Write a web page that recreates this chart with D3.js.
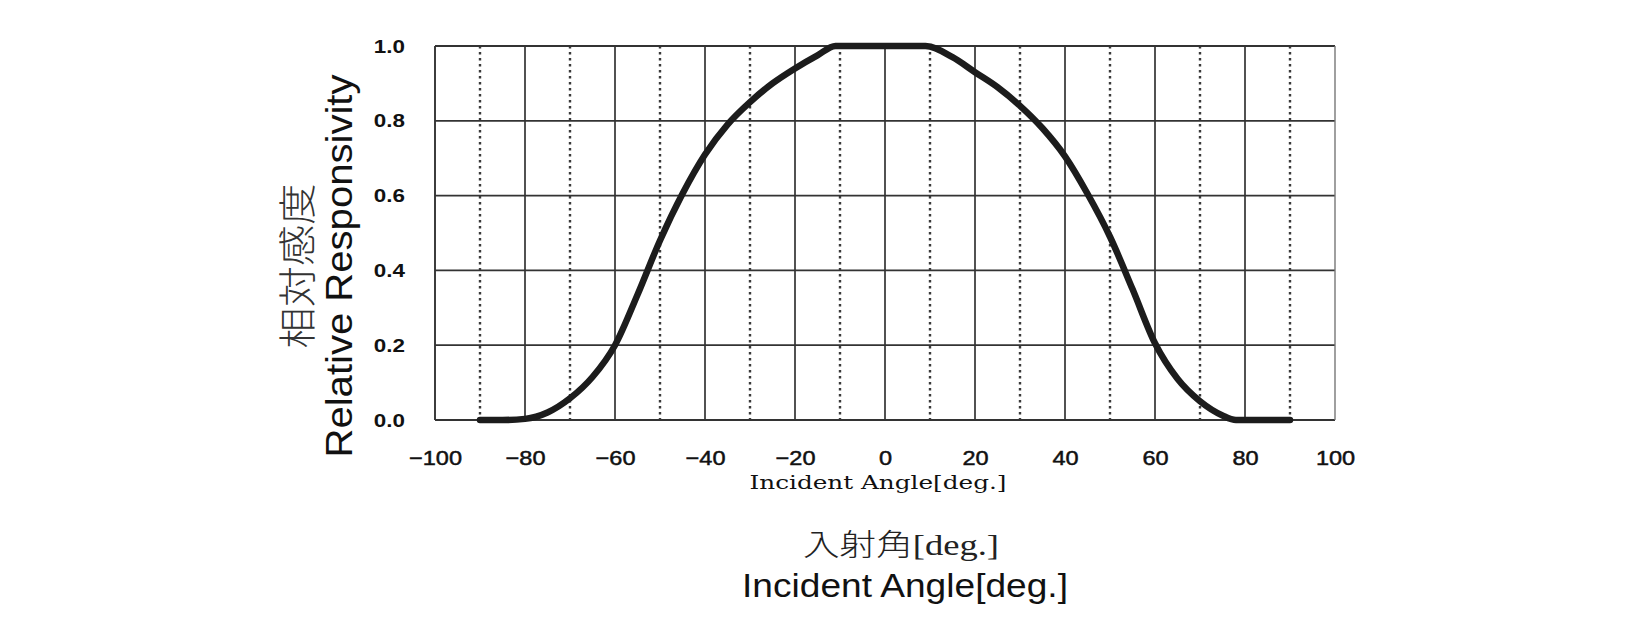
<!DOCTYPE html>
<html>
<head>
<meta charset="utf-8">
<script src="https://cdn.jsdelivr.net/npm/d3@7"></script>
<style>
  html, body { margin: 0; padding: 0; background: #fff; }
  svg { display: block; }
</style>
</head>
<body>
<svg id="chart" width="1633" height="618"></svg>
<script>
// ---- data ----
const angles = [-90, -85, -80, -75, -70, -65, -60, -55, -50, -45, -40, -35, -30, -25, -20, -15, -11, 0, 9, 15, 20, 25, 30, 35, 40, 45, 50, 55, 60, 65, 70, 75, 78, 84, 90];
const responsivity = [0, 0, 0.003, 0.02, 0.058, 0.115, 0.2, 0.335, 0.48, 0.605, 0.71, 0.79, 0.85, 0.9, 0.94, 0.975, 1.0, 1.0, 1.0, 0.97, 0.93, 0.89, 0.84, 0.78, 0.705, 0.605, 0.49, 0.35, 0.205, 0.11, 0.05, 0.012, 0, 0, 0];
const xTicks = [-100, -80, -60, -40, -20, 0, 20, 40, 60, 80, 100];
const xMajorGrid = [-80, -60, -40, -20, 0, 20, 40, 60, 80];
const xMinorGrid = [-90, -70, -50, -30, -10, 10, 30, 50, 70, 90];
const yTicks = [0.0, 0.2, 0.4, 0.6, 0.8, 1.0];
const yGrid = [0.2, 0.4, 0.6, 0.8];
const xLabelSmall = "Incident Angle[deg.]";
const xLabelJa = "入射角";
const xLabelJaUnit = "[deg.]";
const xLabelEn = "Incident Angle[deg.]";
const yLabelJa = "相対感度";
const yLabelEn = "Relative Responsivity";

// ---- layout ----
const pL = 435, pR = 1335, pT = 46, pB = 420;
const svg = d3.select("#chart");
const x = d3.scaleLinear().domain([-100, 100]).range([pL, pR]);
const y = d3.scaleLinear().domain([0, 1]).range([pB, pT]);
const ink = "#1c1c1c";

// grid: dotted minor verticals
svg.append("g").selectAll("line").data(xMinorGrid).join("line")
  .attr("x1", d => x(d)).attr("x2", d => x(d))
  .attr("y1", pT).attr("y2", pB)
  .attr("stroke", "#3a3a3a").attr("stroke-width", 2.4)
  .attr("stroke-dasharray", "2.5,3.5");

// solid major verticals
svg.append("g").selectAll("line").data(xMajorGrid).join("line")
  .attr("x1", d => x(d)).attr("x2", d => x(d))
  .attr("y1", pT).attr("y2", pB)
  .attr("stroke", "#333").attr("stroke-width", 1.7);

// horizontals
svg.append("g").selectAll("line").data(yGrid).join("line")
  .attr("x1", pL).attr("x2", pR)
  .attr("y1", d => y(d)).attr("y2", d => y(d))
  .attr("stroke", "#333").attr("stroke-width", 1.7);

// frame
svg.append("line").attr("x1", pL).attr("x2", pR).attr("y1", pT).attr("y2", pT)
  .attr("stroke", "#333").attr("stroke-width", 1.9);
svg.append("line").attr("x1", pL).attr("x2", pR).attr("y1", pB).attr("y2", pB)
  .attr("stroke", "#333").attr("stroke-width", 1.9);
svg.append("line").attr("x1", pL).attr("x2", pL).attr("y1", pT).attr("y2", pB)
  .attr("stroke", "#333").attr("stroke-width", 1.9);
svg.append("line").attr("x1", pR).attr("x2", pR).attr("y1", pT).attr("y2", pB)
  .attr("stroke", "#777").attr("stroke-width", 1.4);

// curve
const line = d3.line().x((d, i) => x(angles[i])).y(d => y(d)).curve(d3.curveMonotoneX);
svg.append("path").datum(responsivity)
  .attr("d", line).attr("fill", "none")
  .attr("stroke", ink).attr("stroke-width", 6.5)
  .attr("stroke-linejoin", "round").attr("stroke-linecap", "round");

// axes
function stretch(sel, f) {
  sel.each(function() {
    const len = this.getComputedTextLength();
    d3.select(this).attr("textLength", len * f).attr("lengthAdjust", "spacingAndGlyphs");
  });
}

const xAxis = svg.append("g").attr("transform", `translate(0,${pB})`)
  .call(d3.axisBottom(x).tickValues(xTicks).tickSize(0).tickPadding(30)
    .tickFormat(d => d < 0 ? "\u2212" + Math.abs(d) : String(d)));
xAxis.select(".domain").remove();
xAxis.selectAll("text").attr("font-family", "'Liberation Sans', Arial, sans-serif")
  .attr("font-size", 21).attr("fill", "#111").attr("stroke", "#111").attr("stroke-width", 0.5);
stretch(xAxis.selectAll("text"), 1.12);

const yAxis = svg.append("g").attr("transform", `translate(${pL},0)`)
  .call(d3.axisLeft(y).tickValues(yTicks).tickSize(0).tickPadding(30).tickFormat(d3.format(".1f")));
yAxis.select(".domain").remove();
yAxis.selectAll("text").attr("font-family", "'Liberation Sans', Arial, sans-serif")
  .attr("font-size", 19).attr("font-weight", "bold").attr("fill", "#111");
stretch(yAxis.selectAll("text"), 1.18);

// axis titles
svg.append("text").attr("x", 878).attr("y", 489).attr("text-anchor", "middle")
  .attr("font-family", "'DejaVu Serif', serif").attr("font-size", 19)
  .attr("fill", "#111").attr("textLength", 257).attr("lengthAdjust", "spacingAndGlyphs")
  .text(xLabelSmall);

const ja = svg.append("text").attr("x", 901).attr("y", 555).attr("text-anchor", "middle")
  .attr("fill", "#222").attr("textLength", 196).attr("lengthAdjust", "spacingAndGlyphs");
ja.append("tspan").attr("font-family", "'Noto Sans CJK JP', sans-serif").attr("font-size", 30)
  .attr("font-weight", 300).text(xLabelJa);
ja.append("tspan").attr("font-family", "'Liberation Serif', serif").attr("font-size", 30)
  .text(xLabelJaUnit);

svg.append("text").attr("x", 905).attr("y", 597).attr("text-anchor", "middle")
  .attr("font-family", "'Liberation Sans', Arial, sans-serif").attr("font-size", 33)
  .attr("fill", "#111").attr("textLength", 326).attr("lengthAdjust", "spacingAndGlyphs")
  .text(xLabelEn);

svg.append("text").attr("transform", "translate(352,266) rotate(-90)").attr("text-anchor", "middle")
  .attr("font-family", "'Liberation Sans', Arial, sans-serif").attr("font-size", 36)
  .attr("fill", "#111").attr("textLength", 383).attr("lengthAdjust", "spacingAndGlyphs")
  .text(yLabelEn);

svg.append("text").attr("transform", "translate(294,266) rotate(-90)").attr("text-anchor", "middle")
  .attr("dominant-baseline", "central")
  .attr("font-family", "'Noto Sans CJK JP', sans-serif").attr("font-size", 38).attr("font-weight", 300)
  .attr("fill", "#333").attr("textLength", 165).attr("lengthAdjust", "spacingAndGlyphs")
  .text(yLabelJa);
</script>
</body>
</html>
